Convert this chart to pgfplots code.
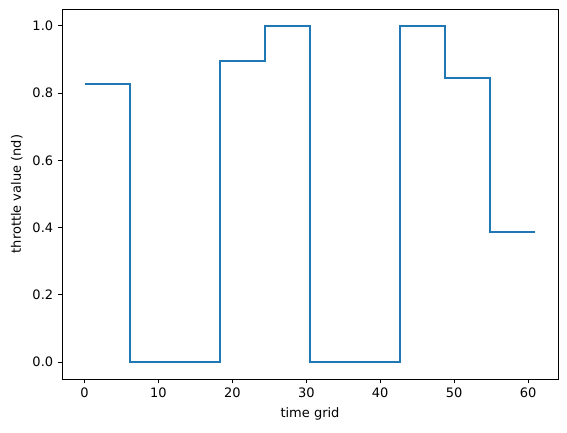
\documentclass[border=0pt]{standalone}
\usepackage{pgfplots}
\pgfplotsset{compat=1.18}
\usepackage{fontspec}
\setmainfont{DejaVu Sans}
\definecolor{tabblue}{HTML}{1F77B4}
\begin{document}
\fontsize{13}{15}\selectfont
\begin{tikzpicture}[x=1pt,y=1pt]
\path[use as bounding box] (-62,-53) rectangle (505,379);
\begin{axis}[
  at={(0,0)}, anchor=south west,
  scale only axis, width=496pt, height=370pt,
  xmin=-3.05, xmax=64.05, ymin=-0.05, ymax=1.05,
  xtick={0,10,20,30,40,50,60},
  ytick={0,0.2,0.4,0.6,0.8,1.0},
  yticklabel style={/pgf/number format/.cd,fixed,fixed zerofill,precision=1},
  /pgf/number format/assume math mode=true,
  tick align=outside, tick pos=left,
  major tick length=4.3pt,
  every tick/.style={black, line width=0.9pt},
  axis line style={line width=0.9pt},
  xlabel={time grid}, ylabel={throttle value (nd)},
  ticklabel style={font=\fontsize{13}{15}\selectfont},
  label style={font=\fontsize{13}{15}\selectfont},
  xlabel style={yshift=-1pt},
  ylabel style={yshift=1pt},
]
\addplot[const plot, tabblue, line width=2pt] coordinates {
(0,0.828) (6.1,0) (18.3,0.894) (24.4,1.0) (30.5,0) (42.7,1.0) (48.8,0.846) (54.9,0.388) (61,0.388)
};
\end{axis}
\end{tikzpicture}
\end{document}
